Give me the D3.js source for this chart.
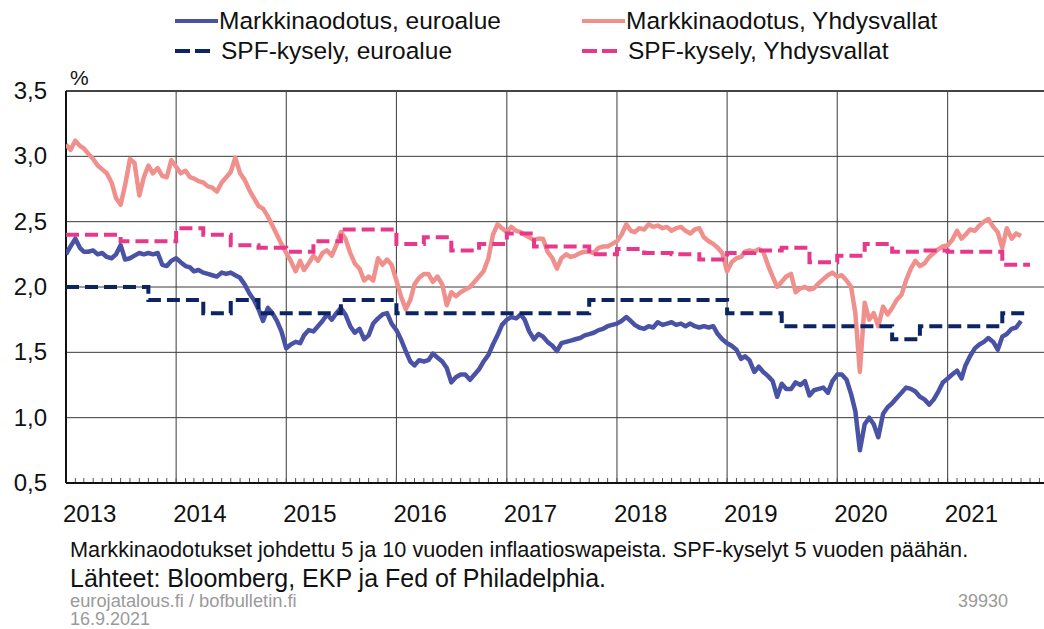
<!DOCTYPE html>
<html>
<head>
<meta charset="utf-8">
<script src="https://cdn.jsdelivr.net/npm/d3@7"></script>
<style>
  body { margin: 0; background: #fff; }
  svg { display: block; font-family: "Liberation Sans", Arial, sans-serif; }
</style>
</head>
<body>
<div id="chart"></div>
<script>
// market series: one value on the 1st and 16th of each month, from 1.1.2013
const usMarket = [
  3.09,3.05,3.12,3.08,3.06,3.02,2.98,2.93,2.90,2.87,2.80,2.68,2.63,2.78,2.98,2.95,2.70,2.84,2.93,2.87,2.91,2.85,2.84,2.97,
  2.92,2.87,2.89,2.84,2.83,2.81,2.80,2.77,2.76,2.73,2.80,2.84,2.88,2.99,2.87,2.82,2.74,2.68,2.62,2.60,2.54,2.47,2.40,2.33,
  2.26,2.20,2.12,2.20,2.13,2.18,2.24,2.20,2.26,2.28,2.24,2.32,2.42,2.37,2.26,2.18,2.14,2.05,2.08,2.05,2.22,2.17,2.21,2.17,
  2.05,1.93,1.83,1.90,2.02,2.07,2.10,2.10,2.04,2.08,2.02,1.86,1.96,1.93,1.96,1.98,2.00,2.04,2.08,2.12,2.22,2.40,2.48,2.45,
  2.42,2.46,2.43,2.42,2.40,2.38,2.36,2.37,2.37,2.27,2.22,2.14,2.22,2.25,2.23,2.24,2.26,2.27,2.27,2.26,2.30,2.31,2.31,2.33,
  2.35,2.40,2.48,2.43,2.42,2.45,2.44,2.48,2.46,2.47,2.45,2.46,2.43,2.45,2.46,2.43,2.41,2.44,2.45,2.38,2.35,2.33,2.30,2.26,
  2.12,2.19,2.22,2.23,2.27,2.28,2.27,2.29,2.27,2.17,2.08,2.00,2.04,2.08,2.10,1.96,1.99,2.00,1.98,1.99,2.03,2.06,2.09,2.11,
  2.08,2.09,2.05,2.00,1.80,1.35,1.88,1.75,1.80,1.70,1.85,1.79,1.84,1.90,1.94,2.05,2.14,2.20,2.16,2.18,2.23,2.26,2.29,2.31,
  2.32,2.36,2.43,2.37,2.40,2.44,2.43,2.47,2.50,2.52,2.46,2.42,2.30,2.45,2.37,2.41,2.39
];
const euroMarket = [
  2.25,2.31,2.37,2.30,2.27,2.27,2.28,2.25,2.26,2.23,2.22,2.25,2.32,2.21,2.22,2.24,2.26,2.25,2.26,2.25,2.26,2.17,2.16,2.20,
  2.22,2.19,2.16,2.15,2.12,2.13,2.11,2.10,2.09,2.08,2.11,2.10,2.11,2.09,2.07,2.02,1.95,1.90,1.83,1.74,1.84,1.80,1.74,1.66,
  1.53,1.56,1.58,1.57,1.63,1.67,1.66,1.70,1.74,1.79,1.75,1.80,1.84,1.79,1.70,1.65,1.68,1.60,1.63,1.72,1.76,1.79,1.80,1.72,
  1.67,1.60,1.51,1.43,1.40,1.44,1.43,1.44,1.49,1.46,1.43,1.38,1.27,1.31,1.33,1.33,1.29,1.33,1.37,1.43,1.48,1.56,1.63,1.71,
  1.75,1.77,1.76,1.79,1.75,1.66,1.60,1.64,1.62,1.58,1.55,1.51,1.57,1.58,1.59,1.60,1.61,1.63,1.64,1.65,1.67,1.68,1.70,1.71,
  1.72,1.74,1.77,1.74,1.71,1.69,1.68,1.70,1.69,1.73,1.71,1.72,1.73,1.71,1.72,1.70,1.72,1.70,1.69,1.70,1.69,1.70,1.64,1.60,
  1.57,1.55,1.52,1.45,1.47,1.44,1.35,1.39,1.35,1.32,1.28,1.16,1.26,1.22,1.22,1.27,1.25,1.28,1.17,1.21,1.22,1.23,1.19,1.28,
  1.33,1.33,1.29,1.18,1.05,0.75,0.95,1.00,0.95,0.85,1.03,1.08,1.11,1.15,1.19,1.23,1.22,1.20,1.16,1.14,1.10,1.14,1.20,1.27,
  1.30,1.33,1.36,1.30,1.40,1.47,1.53,1.56,1.58,1.61,1.58,1.52,1.62,1.64,1.68,1.69,1.74
];

// SPF surveys: one value per quarter, 2013Q1 .. 2021Q3
const spfEuro = [
  2.0,2.0,2.0,1.9, 1.9,1.8,1.9,1.8, 1.8,1.8,1.9,1.9, 1.8,1.8,1.8,1.8, 1.8,1.8,1.8,1.9,
  1.9,1.9,1.9,1.9, 1.8,1.8,1.7,1.7, 1.7,1.7,1.6,1.7, 1.7,1.7,1.8
];
const spfUs = [
  2.40,2.40,2.35,2.35, 2.45,2.40,2.32,2.30, 2.27,2.35,2.44,2.44, 2.33,2.38,2.28,2.33, 2.41,2.31,2.31,2.25,
  2.29,2.26,2.25,2.21, 2.26,2.28,2.30,2.19, 2.24,2.33,2.27,2.28, 2.27,2.27,2.17
];

const years = ['2013','2014','2015','2016','2017','2018','2019','2020','2021'];
const yTicks = [0.5, 1.0, 1.5, 2.0, 2.5, 3.0, 3.5];

const seriesNames = ['Markkinaodotus, euroalue', 'Markkinaodotus, Yhdysvallat', 'SPF-kysely, euroalue', 'SPF-kysely, Yhdysvallat'];
const seriesColors = ['#4a52a6', '#f0908d', '#0d2463', '#e8388c'];

const notes = [
  'Markkinaodotukset johdettu 5 ja 10 vuoden inflaatioswapeista. SPF-kyselyt 5 vuoden päähän.',
  'Lähteet: Bloomberg, EKP ja Fed of Philadelphia.'
];

const W = 1044, H = 629;
const margin = { top: 91, left: 66, bottom: 483 };
const yearWidth = 110.2;

const svg = d3.select('#chart').append('svg')
  .attr('width', W)
  .attr('height', H);

svg.append('rect').attr('width', W).attr('height', H).attr('fill', '#fff');

const x = d3.scaleUtc()
  .domain([new Date(Date.UTC(2013, 0, 1)), new Date(Date.UTC(2022, 0, 1))])
  .range([margin.left, margin.left + 9 * yearWidth]);

const y = d3.scaleLinear()
  .domain([0.5, 3.5])
  .range([margin.bottom, margin.top]);

const halfMonth = i => new Date(Date.UTC(2013 + Math.floor(i / 24), Math.floor((i % 24) / 2), i % 2 ? 16 : 1));
const quarterStart = i => new Date(Date.UTC(2013, 3 * i, 1));

svg.append('clipPath').attr('id', 'plot')
  .append('rect')
  .attr('x', margin.left).attr('y', margin.top - 2)
  .attr('width', W - margin.left).attr('height', margin.bottom - margin.top + 4);

// grid
const grid = svg.append('g');
grid.selectAll('.hgrid')
  .data(yTicks.slice(1, -1))
  .join('line')
  .attr('x1', margin.left).attr('x2', W)
  .attr('y1', d => y(d)).attr('y2', d => y(d))
  .attr('stroke', '#3a3a3a').attr('stroke-width', 1);

grid.selectAll('.vgrid')
  .data(years.slice(1))
  .join('line')
  .attr('x1', d => x(new Date(Date.UTC(+d, 0, 1))))
  .attr('x2', d => x(new Date(Date.UTC(+d, 0, 1))))
  .attr('y1', margin.top).attr('y2', margin.bottom)
  .attr('stroke', '#3a3a3a').attr('stroke-width', 1);

// monthly minor ticks
const months = d3.utcMonth.range(new Date(Date.UTC(2013, 0, 1)), new Date(Date.UTC(2022, 0, 1)));
grid.selectAll('.mtick')
  .data(months)
  .join('line')
  .attr('x1', d => x(d)).attr('x2', d => x(d))
  .attr('y1', margin.bottom - 5).attr('y2', margin.bottom)
  .attr('stroke', '#555').attr('stroke-width', 1);

// frame
svg.append('line')
  .attr('x1', margin.left).attr('x2', W)
  .attr('y1', margin.top).attr('y2', margin.top)
  .attr('stroke', '#444').attr('stroke-width', 2);
svg.append('line')
  .attr('x1', margin.left).attr('x2', W)
  .attr('y1', margin.bottom).attr('y2', margin.bottom)
  .attr('stroke', '#111').attr('stroke-width', 2);
svg.append('line')
  .attr('x1', margin.left).attr('x2', margin.left)
  .attr('y1', margin.top).attr('y2', margin.bottom)
  .attr('stroke', '#111').attr('stroke-width', 2);

// lines
const plot = svg.append('g').attr('clip-path', 'url(#plot)');

const marketLine = d3.line()
  .x((d, i) => x(halfMonth(i)))
  .y(d => y(d));

const stepLine = d3.line()
  .x(d => x(d.date))
  .y(d => y(d.value))
  .curve(d3.curveStepAfter);

const toSteps = vals => vals.map((v, i) => ({ date: quarterStart(i), value: v }))
  .concat([{ date: quarterStart(vals.length), value: vals[vals.length - 1] }]);

plot.append('path')
  .attr('d', marketLine(usMarket))
  .attr('fill', 'none')
  .attr('stroke', seriesColors[1])
  .attr('stroke-width', 4.5)
  .attr('stroke-linejoin', 'round');

plot.append('path')
  .attr('d', marketLine(euroMarket))
  .attr('fill', 'none')
  .attr('stroke', seriesColors[0])
  .attr('stroke-width', 4.5)
  .attr('stroke-linejoin', 'round');

plot.append('path')
  .attr('d', stepLine(toSteps(spfEuro)))
  .attr('fill', 'none')
  .attr('stroke', seriesColors[2])
  .attr('stroke-width', 4)
  .attr('stroke-dasharray', '13,6');

plot.append('path')
  .attr('d', stepLine(toSteps(spfUs)))
  .attr('fill', 'none')
  .attr('stroke', seriesColors[3])
  .attr('stroke-width', 4)
  .attr('stroke-dasharray', '13,6');

// axis labels
const fmt = d3.formatLocale({ decimal: ',', thousands: ' ', grouping: [3], currency: ['', ' €'] }).format('.1f');
svg.selectAll('.ylab')
  .data(yTicks)
  .join('text')
  .attr('x', 47)
  .attr('y', d => y(d) + 8)
  .attr('text-anchor', 'end')
  .attr('font-size', 24)
  .attr('fill', '#111')
  .text(d => fmt(d));

svg.append('text')
  .attr('x', 70).attr('y', 85)
  .attr('font-size', 21)
  .attr('fill', '#111')
  .text('%');

svg.selectAll('.xlab')
  .data(years)
  .join('text')
  .attr('x', d => x(new Date(Date.UTC(+d, 0, 1))) - 3)
  .attr('y', 522)
  .attr('font-size', 24)
  .attr('fill', '#111')
  .text(d => d);

// legend
const legendPos = [[175, 21], [582, 21], [175, 51], [582, 51]];
const legend = svg.selectAll('.legend')
  .data(seriesNames)
  .join('g')
  .attr('transform', (d, i) => 'translate(' + legendPos[i][0] + ',' + legendPos[i][1] + ')');

legend.append('line')
  .attr('x1', 0).attr('x2', (d, i) => i < 2 ? 43 : 35)
  .attr('y1', 0).attr('y2', 0)
  .attr('stroke', (d, i) => seriesColors[i])
  .attr('stroke-width', 4)
  .attr('stroke-dasharray', (d, i) => i < 2 ? null : '15,5');

legend.append('text')
  .attr('x', (d, i) => i < 2 ? 44 : 46)
  .attr('y', 8)
  .attr('font-size', 24.5)
  .attr('fill', '#111')
  .text(d => d);

// notes
svg.append('text')
  .attr('x', 70).attr('y', 557)
  .attr('font-size', 21.7)
  .attr('fill', '#111')
  .text(notes[0]);

svg.append('text')
  .attr('x', 70).attr('y', 587)
  .attr('font-size', 25)
  .attr('fill', '#111')
  .text(notes[1]);

svg.append('text')
  .attr('x', 70).attr('y', 607)
  .attr('font-size', 18.3)
  .attr('fill', '#9a9a9a')
  .text('eurojatalous.fi / bofbulletin.fi');

svg.append('text')
  .attr('x', 70).attr('y', 625)
  .attr('font-size', 18)
  .attr('fill', '#9a9a9a')
  .text('16.9.2021');

svg.append('text')
  .attr('x', 1008).attr('y', 607)
  .attr('text-anchor', 'end')
  .attr('font-size', 18)
  .attr('fill', '#9a9a9a')
  .text('39930');
</script>
</body>
</html>
